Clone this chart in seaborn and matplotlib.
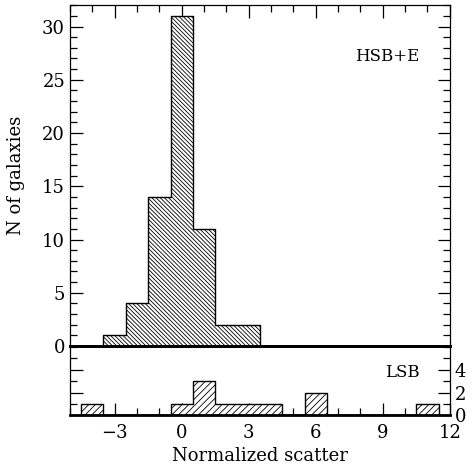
import matplotlib
matplotlib.use('Agg')

import seaborn as sns
import matplotlib.pyplot as plt
from matplotlib.ticker import MultipleLocator, FixedLocator

# --- histogram data (bin centres, counts) ---
hsb_centers = [-3, -2, -1, 0, 1, 2, 3]
hsb_counts = [1, 4, 14, 31, 11, 2, 2]

lsb_centers = [-4, 0, 1, 2, 3, 4, 6, 11]
lsb_counts = [1, 1, 3, 1, 1, 1, 2, 1]

sns.set_style('ticks', {'axes.edgecolor': 'black', 'text.color': 'black',
                        'xtick.color': 'black', 'ytick.color': 'black',
                        'axes.labelcolor': 'black'})
plt.rcParams['font.family'] = ['DejaVu Serif']
plt.rcParams['hatch.linewidth'] = 0.6

fig = plt.figure(figsize=(4.76, 4.74), dpi=100)
ax1 = fig.add_axes([0.147, 0.270, 0.798, 0.719])
ax2 = fig.add_axes([0.147, 0.124, 0.798, 0.146], sharex=ax1)
ax2.patch.set_visible(False)


def hatched_hist(ax, centers, counts, hatch):
    sns.histplot(x=centers, weights=counts, discrete=True, element='step',
                 fill=True, color='white', edgecolor='black', linewidth=1.0,
                 alpha=1, ax=ax)
    for coll in ax.collections:
        coll.set_hatch(hatch)
        coll.set_facecolor('white')
        coll.set_edgecolor('black')


hatched_hist(ax1, hsb_centers, hsb_counts, '\\' * 8)
hatched_hist(ax2, lsb_centers, lsb_counts, '/' * 5)

# --- top panel ---
ax1.set_xlim(-5, 12)
ax1.set_ylim(0, 32)
ax1.yaxis.set_major_locator(MultipleLocator(5))
ax1.yaxis.set_minor_locator(MultipleLocator(1))
ax1.xaxis.set_major_locator(MultipleLocator(3))
ax1.xaxis.set_minor_locator(MultipleLocator(1))
ax1.set_ylabel('N of galaxies', fontsize=13, labelpad=12)
ax1.set_xlabel('')
ax1.text(0.92, 0.85, 'HSB+E', transform=ax1.transAxes, ha='right',
         va='center', fontsize=12)

# --- bottom panel ---
ax2.set_ylim(0, 6.1)
ax2.yaxis.set_major_locator(FixedLocator([0, 2, 4]))
ax2.yaxis.set_minor_locator(MultipleLocator(1))
ax2.set_ylabel('')
ax2.set_xlabel('Normalized scatter', fontsize=13)
ax2.text(0.92, 0.62, 'LSB', transform=ax2.transAxes, ha='right',
         va='center', fontsize=12)

for ax in (ax1, ax2):
    for s in ax.spines.values():
        s.set_visible(True)
        s.set_linewidth(0.9)
    ax.tick_params(which='both', direction='in', top=True, right=True,
                   labelsize=13)
    ax.tick_params(which='major', length=9, width=0.9)
    ax.tick_params(which='minor', length=5, width=0.9)

ax1.tick_params(axis='x', which='both', bottom=False, labelbottom=False)
ax2.tick_params(axis='x', which='both', top=False, pad=6)
ax2.tick_params(axis='y', which='both', labelleft=False, labelright=True)
ax1.spines['bottom'].set_linewidth(2.0)
ax2.spines['top'].set_linewidth(2.0)
ax2.spines['bottom'].set_linewidth(2.0)

fig.savefig('out.png', dpi=100)
